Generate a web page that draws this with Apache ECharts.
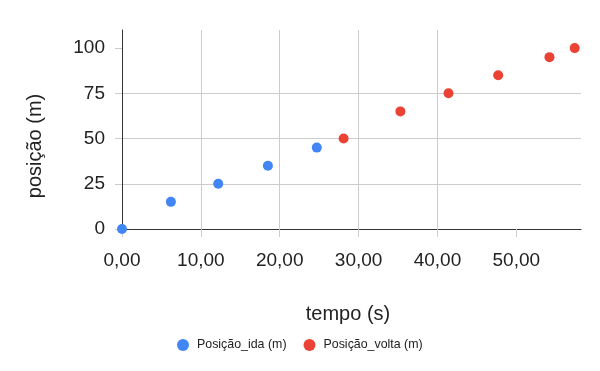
<!DOCTYPE html>
<html><head><meta charset="utf-8">
<script src="https://cdn.jsdelivr.net/npm/echarts@6/dist/echarts.min.js"></script>
<style>html,body{margin:0;padding:0;background:#fff}#c{width:600px;height:371px}</style>
</head><body><div id="c"></div>
<script>
const tempoIda = [0, 6.2, 12.2, 18.5, 24.7];
const posIda = [0, 15, 25, 35, 45];
const tempoVolta = [28.1, 35.3, 41.4, 47.7, 54.2, 57.4];
const posVolta = [50, 65, 75, 85, 95, 100];
const xTicks = [0, 10, 20, 30, 40, 50];
const yTicks = [0, 25, 50, 75, 100];
const seriesNames = ['Posição_ida (m)', 'Posição_volta (m)'];
const xTitle = 'tempo (s)';
const yTitle = 'posição (m)';

const chart = echarts.init(document.getElementById('c'), null, {renderer: 'canvas'});
const font = 'Arial, "Liberation Sans", sans-serif';
chart.setOption({
  animation: false,
  grid: {left: 122, right: 19, top: 30, bottom: 142, containLabel: false},
  xAxis: {
    type: 'value', min: 0, max: 58.2, interval: 10,
    axisLine: {show: true, onZero: true, lineStyle: {color: '#333', width: 1}},
    axisTick: {show: true, length: 8, lineStyle: {color: '#ccc'}, customValues: xTicks},
    axisLabel: {fontFamily: font, fontSize: 19, color: '#222', margin: 22, customValues: xTicks,
      formatter: v => v.toFixed(2).replace('.', ',')},
    splitLine: {show: true, showMaxLine: false, lineStyle: {color: '#ccc'}}
  },
  yAxis: {
    type: 'value', min: 0, max: 110, interval: 25,
    axisLine: {show: true, onZero: true, lineStyle: {color: '#333', width: 1}},
    axisTick: {show: true, length: 7, lineStyle: {color: '#ccc'}, customValues: yTicks},
    axisLabel: {fontFamily: font, fontSize: 19, color: '#222', margin: 17, customValues: yTicks},
    splitLine: {show: true, showMaxLine: false, lineStyle: {color: '#ccc'}}
  },
  legend: {
    left: 177, top: 339, padding: 0, itemWidth: 12, itemHeight: 12, itemGap: 17,
    icon: 'circle',
    textStyle: {fontFamily: font, fontSize: 12.4, color: '#222', padding: [0, 0, 0, 3]},
    data: seriesNames
  },
  graphic: [
    {type: 'text', x: 348, y: 314, style: {text: xTitle, font: '20px ' + font, fill: '#222', textAlign: 'center', textVerticalAlign: 'middle'}},
    {type: 'text', x: 35, y: 146, rotation: Math.PI / 2, style: {text: yTitle, font: '20px ' + font, fill: '#222', textAlign: 'center', textVerticalAlign: 'middle'}}
  ],
  series: [
    {name: seriesNames[0], type: 'scatter', symbolSize: 10, itemStyle: {color: '#4285F4', opacity: 1},
     data: tempoIda.map((t, i) => [t, posIda[i]])},
    {name: seriesNames[1], type: 'scatter', symbolSize: 10, itemStyle: {color: '#EA4335', opacity: 1},
     data: tempoVolta.map((t, i) => [t, posVolta[i]])}
  ]
});
</script></body></html>
